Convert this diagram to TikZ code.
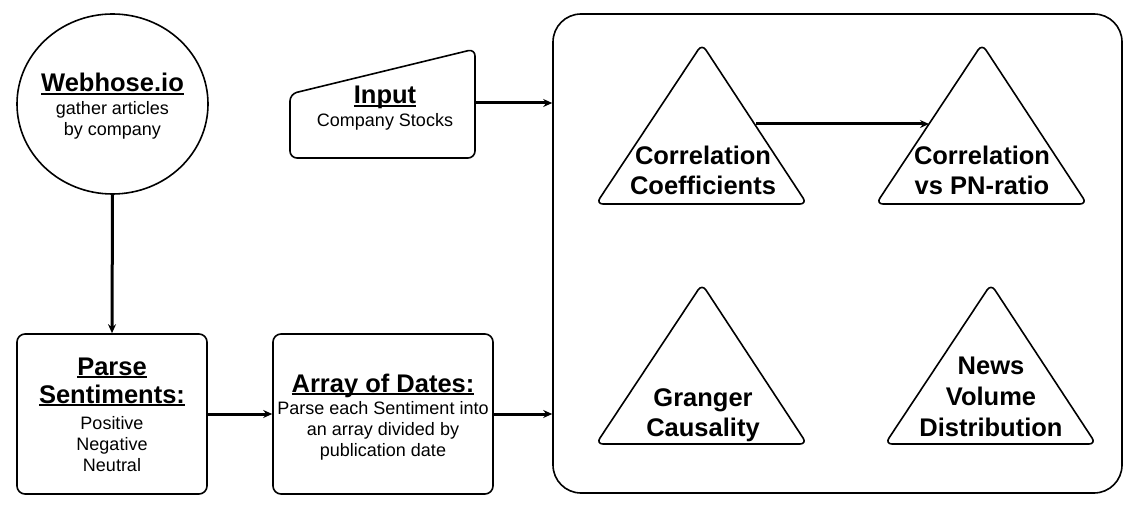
\documentclass[tikz,border=0pt]{standalone}
\usepackage{fontspec}
\setmainfont{Liberation Sans}
\usetikzlibrary{shapes.geometric,arrows.meta,calc}
\newcommand\myul[1]{\setbox0\hbox{#1}\rlap{\rule[-0.13em]{\wd0}{0.075em}}\box0}
\begin{document}
\begin{tikzpicture}[x=1pt,y=-1pt,
  line join=round,
  shp/.style={draw, line width=1.6pt},
  boxnode/.style={shp, rounded corners=8pt, minimum width=190pt, minimum height=160pt, inner sep=0pt},
  tri/.style={shp, rounded corners=7pt},
  big/.style={font=\fontsize{25.5}{28}\selectfont\bfseries, inner sep=0pt, anchor=base},
  small/.style={font=\fontsize{18}{21}\selectfont, inner sep=0pt, anchor=base},
  arr/.style={line width=3pt, -{Stealth[length=9pt,width=8pt,inset=3pt]}}]
\useasboundingbox (0,0) rectangle (1147,510);

% container
\node[shp, rounded corners=28pt, minimum width=569pt, minimum height=479pt, inner sep=0pt] (cont) at (837.5,253.5) {};

% Webhose circle
\node[shp, ellipse, minimum width=191pt, minimum height=180pt, inner sep=0pt] (web) at (112.5,104) {};
\node[big] (webT) at (112.5,92) {\myul{Webhose.io}};
\node[small] (webA) at (112.5,114.5) {gather articles};
\node[small] (webB) at (112.5,135.5) {by company};

% Input trapezoid
\draw[shp, rounded corners=7pt] (290,158) -- (290,94) -- (475,49) -- (475,158) -- cycle;
\coordinate (inR) at (475,103);
\node[big] (inT) at (385,104) {\myul{Input}};
\node[small] (inS) at (385,126.5) {Company Stocks};

% Parse sentiments
\node[boxnode] (parse) at (112,414) {};
\node[big] (pT1) at (112,375) {\myul{Parse}};
\node[big] (pT2) at (112,403) {\myul{Sentiments:}};
\node[small] (pA) at (112,429.5) {Positive};
\node[small] (pB) at (112,450.5) {Negative};
\node[small] (pC) at (112,471.5) {Neutral};

% Array of dates
\node[boxnode, minimum width=220pt] (array) at (383,414) {};
\node[big] (aT) at (383,392) {\myul{Array of Dates:}};
\node[small] (aA) at (383,414.5) {Parse each Sentiment into};
\node[small] (aB) at (383,435.5) {an array divided by};
\node[small] (aC) at (383,456.5) {publication date};

% triangles
\draw[tri] (596,204) -- (702,44) -- (807,204) -- cycle;
\draw[tri] (876,204) -- (982,44) -- (1087,204) -- cycle;
\draw[tri] (596,444) -- (702,284) -- (807,444) -- cycle;
\draw[tri] (885,444) -- (991,284) -- (1096,444) -- cycle;
\coordinate (t1r) at (756,124);
\coordinate (t2l) at (929,124);

\node[big] (c1a) at (703,165) {Correlation};
\node[big] (c1b) at (703,195) {Coefficients};
\node[big] (c2a) at (982,165) {Correlation};
\node[big] (c2b) at (982,195) {vs PN-ratio};
\node[big] (g1) at (703,406) {Granger};
\node[big] (g2) at (703,436) {Causality};
\node[big] (n1) at (991,374) {News};
\node[big] (n2) at (991,405) {Volume};
\node[big] (n3) at (991,436) {Distribution};

% connectors
\draw[arr] (web.south) -- (parse.north);
\draw[arr] (parse.east) -- (array.west);
\draw[arr] (array.east) -- (array.east -| cont.west);
\draw[arr] (inR) -- (inR -| cont.west);
\draw[arr] (t1r) -- (t2l);
\end{tikzpicture}
\end{document}
